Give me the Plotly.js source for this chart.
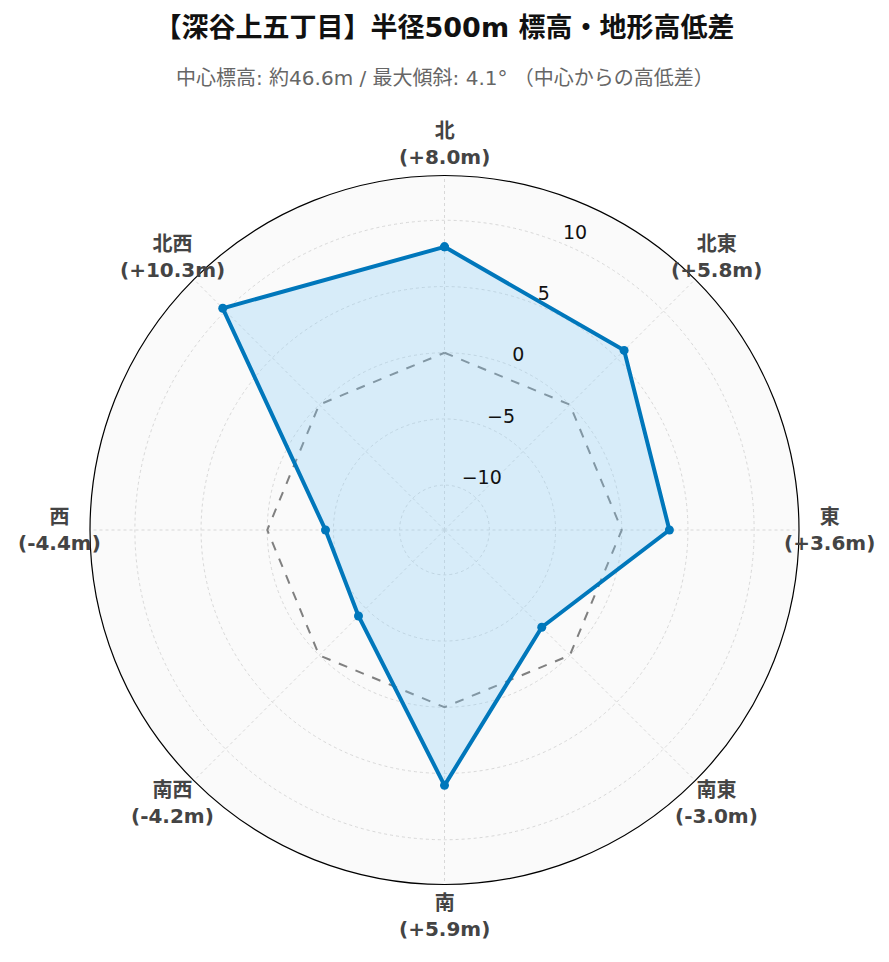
<!DOCTYPE html>
<html>
<head>
<meta charset="utf-8">
<script src="https://cdn.plot.ly/plotly-3.0.1.min.js"></script>
<style>body{margin:0;} #myDiv{width:889px;height:962px;}</style>
</head>
<body>
<div id="myDiv"></div>
<script>
var directions = ['北', '北東', '東', '南東', '南', '南西', '西', '北西'];
var angles = [0, 45, 90, 135, 180, 225, 270, 315];
var diffs = [8.0, 5.8, 3.6, -3.0, 5.9, -4.2, -4.4, 10.3];
var zeros = [0, 0, 0, 0, 0, 0, 0, 0];
var radialTicks = [-10, -5, 0, 5, 10];
var radialTickAngle = 22.5;

var labels = directions.map(function (d, i) {
  var v = diffs[i];
  return '<b>' + d + '<br>(' + (v >= 0 ? '+' : '') + v.toFixed(1) + 'm)</b>';
});

var maxAbs = Math.max.apply(null, diffs.map(Math.abs));
var lim = maxAbs * 1.3;

var closeLoop = function (arr) { return arr.concat([arr[0]]); };

// direction labels as centred annotations just outside the rim
var labelR = 1.087;
var dirNotes = angles.map(function (a, i) {
  var rad = a * Math.PI / 180;
  return {
    text: labels[i],
    xref: 'paper', yref: 'paper',
    x: 0.5 + 0.5 * labelR * Math.sin(rad),
    y: 0.5 + 0.5 * labelR * Math.cos(rad),
    xanchor: 'center', yanchor: 'middle',
    align: 'center',
    showarrow: false,
    font: {size: 20, color: '#444'}
  };
});

var zeroLine = {
  type: 'scatterpolar',
  r: closeLoop(zeros),
  theta: closeLoop(angles),
  mode: 'lines',
  line: {color: 'gray', width: 2, dash: 'dash'},
  hoverinfo: 'skip',
  showlegend: false
};

var elev = {
  type: 'scatterpolar',
  r: closeLoop(diffs),
  theta: closeLoop(angles),
  mode: 'lines+markers',
  fill: 'toself',
  fillcolor: 'rgba(135, 206, 250, 0.3)',
  line: {color: '#0077BB', width: 4},
  marker: {color: '#0077BB', size: 9},
  showlegend: false
};

// radial tick labels, horizontal, sitting just right of the 22.5° spoke
var tickText = {
  type: 'scatterpolar',
  r: radialTicks,
  theta: radialTicks.map(function () { return radialTickAngle; }),
  mode: 'text',
  text: radialTicks.map(function (t) { return t < 0 ? '\u2212' + Math.abs(t) : String(t); }),
  textposition: 'top right',
  textfont: {size: 19, color: '#111'},
  cliponaxis: false,
  hoverinfo: 'skip',
  showlegend: false
};

var layout = {
  width: 889,
  height: 962,
  paper_bgcolor: 'white',
  margin: {l: 90, r: 90, t: 175, b: 77},
  font: {family: 'DejaVu Sans, Noto Sans CJK JP, sans-serif'},
  title: {
    text: '<b>【深谷上五丁目】半径500m 標高・地形高低差</b>',
    x: 0.5, xanchor: 'center',
    y: 0.971, yanchor: 'middle',
    font: {size: 27, color: '#111'}
  },
  annotations: [{
    text: '中心標高: 約46.6m / 最大傾斜: 4.1° （中心からの高低差）',
    xref: 'paper', yref: 'paper',
    x: 0.5, y: 1.1366, xanchor: 'center', yanchor: 'middle',
    showarrow: false,
    font: {size: 20, color: '#666'}
  }].concat(dirNotes),
  polar: {
    bgcolor: '#fafafa',
    radialaxis: {
      range: [-lim, lim],
      angle: 67.5,
      dtick: 5,
      showline: false,
      showticklabels: false,
      ticks: '',
      gridcolor: '#d8d8d8',
      griddash: 'dot'
    },
    angularaxis: {
      direction: 'clockwise',
      rotation: 90,
      tickmode: 'array',
      tickvals: angles,
      showticklabels: false,
      ticks: '',
      linecolor: 'black',
      linewidth: 1.2,
      gridcolor: '#d8d8d8',
      griddash: 'dot'
    }
  }
};

Plotly.newPlot('myDiv', [zeroLine, elev, tickText], layout, {displayModeBar: false});
</script>
</body>
</html>
